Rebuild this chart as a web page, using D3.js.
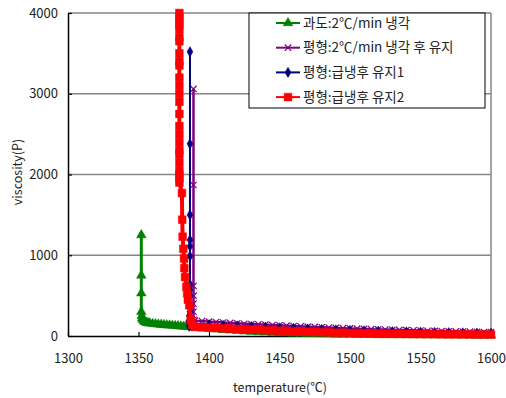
<!DOCTYPE html>
<html>
<head>
<meta charset="utf-8">
<script src="https://cdn.jsdelivr.net/npm/d3@7"></script>
<style>
  body { margin: 0; background: #fff; }
  text { font-family: "Noto Sans CJK KR", "Noto Sans", sans-serif; fill: #222; }
</style>
</head>
<body>
<script>
let margin = { top: 13, right: 15, bottom: 62, left: 68 }
let width = 506 - margin.left - margin.right
let height = 398 - margin.top - margin.bottom

let xTicks = [1300, 1350, 1400, 1450, 1500, 1550, 1600]
let yTicks = [0, 1000, 2000, 3000, 4000]

// 과도:2℃/min 냉각
let greenT = [1352, 1352, 1352, 1352, 1352.3, 1352.6, 1353, 1354, 1355, 1356, 1357, 1358, 1360, 1362, 1364, 1366, 1368, 1370, 1372, 1374, 1376, 1378, 1380, 1382, 1384, 1386, 1388,
              1390, 1395, 1400, 1405, 1410, 1415, 1420, 1425, 1430, 1435, 1440, 1445, 1450, 1455, 1460, 1465, 1470, 1475, 1480, 1485, 1490, 1495,
              1500, 1505, 1510, 1515, 1520, 1525, 1530, 1535, 1540, 1545, 1550, 1555, 1560, 1565, 1570, 1575, 1580, 1585, 1590, 1595, 1600]
let greenV = [1250, 750, 530, 300, 250, 220, 200, 180, 170, 165, 160, 157, 152, 148, 145, 141, 138, 135, 132, 130, 127, 124, 121, 118, 116, 113, 110,
              105, 98, 90, 83, 76, 70, 64, 59, 54, 50, 46, 42, 38, 35, 32, 30, 28, 26, 24, 22, 20, 19,
              18, 17, 16, 15, 14, 13, 13, 12, 12, 11, 11, 10, 10, 10, 9, 9, 9, 8, 8, 8, 8]

// 평형:2℃/min 냉각 후 유지
let purpleT = [1389, 1389, 1389, 1389, 1389, 1389, 1389,
               1390, 1395, 1400, 1405, 1410, 1415, 1420, 1425, 1430, 1435, 1440, 1445, 1450, 1455, 1460, 1465, 1470, 1475, 1480, 1485, 1490, 1495,
               1500, 1505, 1510, 1515, 1520, 1525, 1530, 1535, 1540, 1545, 1550, 1555, 1560, 1565, 1570, 1575, 1580, 1585, 1590, 1595, 1600]
let purpleV = [3060, 1870, 620, 500, 400, 300, 200,
               190, 185, 178, 172, 167, 162, 157, 152, 148, 144, 140, 136, 132, 128, 124, 120, 116, 112, 108, 104, 100, 97,
               94, 91, 88, 85, 82, 79, 77, 75, 72, 70, 68, 65, 63, 61, 59, 57, 55, 53, 51, 49, 47]

// 평형:급냉후 유지1
let navyT = [1386.5, 1386.5, 1386.5, 1386.5, 1386.5, 1386.5, 1386.5, 1386.5, 1386.5, 1386.5, 1386.5, 1386, 1385.5, 1386, 1388,
             1400, 1410, 1420, 1430, 1440, 1450, 1460, 1470, 1480, 1490, 1500, 1510, 1520, 1530, 1540, 1550, 1560, 1570, 1580, 1590, 1600]
let navyV = [3520, 2380, 1500, 1190, 1110, 990, 640, 570, 490, 380, 300, 250, 180, 120, 150,
             140, 132, 125, 117, 110, 102, 95, 88, 82, 76, 70, 65, 60, 56, 52, 48, 45, 42, 40, 37, 35]

// 평형:급냉후 유지2
let redT = [1379, 1379, 1379, 1379, 1379, 1379, 1379, 1379, 1379, 1379, 1379, 1379, 1379, 1379, 1379, 1379, 1379, 1379, 1379, 1379, 1379, 1379, 1379, 1379, 1379,
            1380.8, 1381, 1381.3, 1381.8, 1382.3, 1382.5, 1383, 1384, 1384.5, 1385, 1386, 1387, 1388, 1390, 1395,
            1400, 1405, 1410, 1415, 1420, 1425, 1430, 1435, 1440, 1445, 1450, 1455, 1460, 1465, 1470, 1475, 1480, 1485, 1490, 1495,
            1500, 1505, 1510, 1515, 1520, 1525, 1530, 1535, 1540, 1545, 1550, 1555, 1560, 1565, 1570, 1575, 1580, 1585, 1590, 1595, 1600]
let redV = [4000, 3950, 3900, 3850, 3800, 3700, 3650, 3500, 3400, 3350, 3200, 3100, 3000, 2900, 2750, 2600, 2500, 2400, 2300, 2250, 2150, 2050, 2000, 1950, 1900,
            1770, 1440, 1230, 1080, 960, 840, 730, 610, 530, 450, 380, 200, 140, 112, 108,
            105, 100, 95, 92, 88, 84, 80, 76, 72, 68, 65, 62, 58, 55, 52, 50, 47, 45, 42, 40,
            38, 36, 35, 33, 32, 30, 29, 28, 27, 26, 25, 24, 23, 22, 21, 21, 20, 20, 19, 19, 18]

let seriesNames = ['과도:2℃/min 냉각', '평형:2℃/min 냉각 후 유지', '평형:급냉후 유지1', '평형:급냉후 유지2']
let seriesColors = ['#008000', '#800080', '#000080', '#ff0000']
let seriesT = [greenT, purpleT, navyT, redT]
let seriesV = [greenV, purpleV, navyV, redV]
let lineWidths = [3, 2.5, 2, 4]

let x = d3.scaleLinear().domain([1300, 1600]).range([0, width])
let y = d3.scaleLinear().domain([0, 4000]).range([height, 0])

let svg = d3.select('body')
    .append('svg')
    .attr('width', 506)
    .attr('height', 398)

let g = svg.append('g')
    .attr('transform', 'translate(' + margin.left + ',' + margin.top + ')')

//gridlines
g.selectAll('.grid')
    .data(yTicks.filter(d => d > 0))
    .enter()
    .append('line')
    .attr('x1', 0)
    .attr('x2', width)
    .attr('y1', d => y(d))
    .attr('y2', d => y(d))
    .attr('stroke', '#868686')
    .attr('stroke-width', 1.5)

//right border
g.append('line')
    .attr('x1', width).attr('x2', width)
    .attr('y1', 0).attr('y2', height)
    .attr('stroke', '#868686')
    .attr('stroke-width', 1.5)

//axes
let fmt = d3.format('d')
let xAxis = g.append('g')
    .attr('transform', 'translate(0,' + height + ')')
    .call(d3.axisBottom(x).tickValues(xTicks).tickFormat(fmt).tickSizeInner(-4).tickSizeOuter(0).tickPadding(18))
let yAxis = g.append('g')
    .call(d3.axisLeft(y).tickValues(yTicks).tickFormat(fmt).tickSizeInner(-4).tickSizeOuter(0).tickPadding(10))

xAxis.selectAll('text').attr('font-size', 13).style('font-family', '"Noto Sans CJK KR", sans-serif').style('fill', '#222')
yAxis.selectAll('text').attr('font-size', 13).style('font-family', '"Noto Sans CJK KR", sans-serif').style('fill', '#222')
svg.selectAll('.domain').attr('stroke', '#000').attr('stroke-width', 1.5)
svg.selectAll('.tick line').attr('stroke', '#000').attr('stroke-width', 1.2)

//axis titles
svg.append('text')
    .attr('x', 280)
    .attr('y', 392)
    .attr('text-anchor', 'middle')
    .attr('font-size', 12.5)
    .text('temperature(℃)')

svg.append('text')
    .attr('transform', 'translate(22,172) rotate(-90)')
    .attr('text-anchor', 'middle')
    .attr('font-size', 12.5)
    .text('viscosity(P)')

//markers
let symbols = [d3.symbolTriangle, d3.symbolX, d3.symbolDiamond, d3.symbolSquare]
let symSizes = [40, 28, 30, 60]

function drawMarker(sel, i) {
    sel.append('path')
        .attr('d', d3.symbol().type(symbols[i]).size(symSizes[i])())
        .attr('fill', i === 1 ? 'none' : seriesColors[i])
        .attr('stroke', seriesColors[i])
        .attr('stroke-width', i === 1 ? 1.2 : 0.5)
}

let line = d3.line().x(d => x(d[0])).y(d => y(d[1]))

seriesT.forEach((ts, i) => {
    let pts = ts.map((t, j) => [t, seriesV[i][j]])
    g.append('path')
        .datum(pts)
        .attr('d', line)
        .attr('fill', 'none')
        .attr('stroke', seriesColors[i])
        .attr('stroke-width', lineWidths[i])
    pts.forEach(p => {
        let m = g.append('g').attr('transform', 'translate(' + x(p[0]) + ',' + y(p[1]) + ')')
        drawMarker(m, i)
    })
})

//legend
let legend = svg.append('g')
    .attr('transform', 'translate(249,13)')

legend.append('rect')
    .attr('width', 236)
    .attr('height', 95)
    .attr('fill', '#fff')
    .attr('stroke', '#000')
    .attr('stroke-width', 1)

seriesNames.forEach((name, i) => {
    let row = legend.append('g').attr('transform', 'translate(0,' + (10 + i * 24.7) + ')')
    row.append('line')
        .attr('x1', 27).attr('x2', 51)
        .attr('stroke', seriesColors[i])
        .attr('stroke-width', 2)
    let m = row.append('g').attr('transform', 'translate(39,0)')
    drawMarker(m, i)
    row.append('text')
        .attr('x', 54)
        .attr('dy', '0.35em')
        .attr('font-size', 13.5)
        .text(name)
})
</script>
</body>
</html>
